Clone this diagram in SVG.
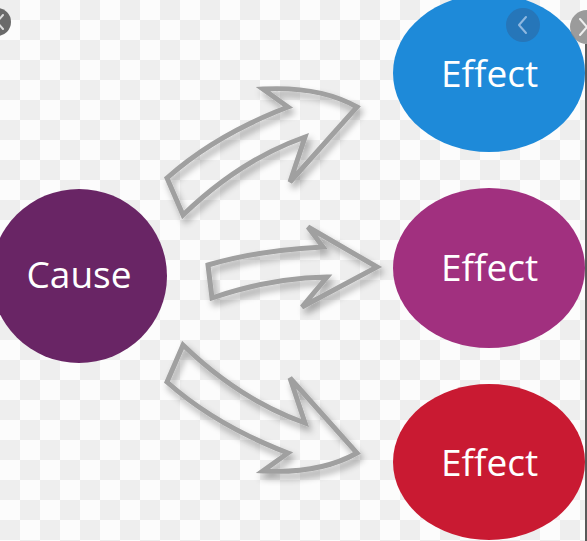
<svg xmlns="http://www.w3.org/2000/svg" width="587" height="541" viewBox="0 0 587 541">
  <defs>
    <pattern id="checker" x="0" y="0" width="40" height="40" patternUnits="userSpaceOnUse">
      <rect width="40" height="40" fill="#fcfcfc"/>
      <rect x="0" y="0" width="20" height="20" fill="#eeeeee"/>
      <rect x="20" y="20" width="20" height="20" fill="#eeeeee"/>
    </pattern>
    <filter id="shadow" x="-20%" y="-20%" width="140%" height="140%">
      <feGaussianBlur in="SourceAlpha" stdDeviation="3.5"/>
      <feOffset dx="3" dy="5" result="b"/>
      <feComponentTransfer><feFuncA type="linear" slope="0.35"/></feComponentTransfer>
      <feMerge><feMergeNode/><feMergeNode in="SourceGraphic"/></feMerge>
    </filter>
    <style>
      .arrow { fill: none; stroke: #a0a0a0; stroke-width: 5; stroke-linejoin: miter; filter: url(#shadow); }
      .label { font-family: "Open Sans", "Noto Sans", "Liberation Sans", sans-serif; font-size: 37px; fill: #ffffff; text-anchor: middle; }
      .chev { fill: none; stroke-width: 2; stroke-linecap: round; stroke-linejoin: round; }
    </style>
  </defs>

  <rect width="587" height="541" fill="url(#checker)"/>

  <g id="connectors">
    <path id="arrow-top" class="arrow" d="M 183 215 L 167 178 Q 215 135 288 107 L 263 89 Q 320 86 357 107 L 290 182 L 305 137 Q 240 160 183 215 Z"/>
    <path id="arrow-middle" class="arrow" d="M 212 298 L 208 265 Q 260 250 323 247 L 308 227 L 377 267 L 302 307 L 327 277 Q 270 278 212 298 Z"/>
    <path id="arrow-bottom" class="arrow" d="M 183 345 Q 240 400 305 423 L 290 378 L 357 453 Q 320 474 263 471 L 288 453 Q 215 425 167 382 Z"/>
  </g>

  <g id="cause">
    <ellipse cx="79" cy="276" rx="88" ry="87" fill="#692565"/>
    <text class="label" x="79" y="288">Cause</text>
  </g>

  <g id="effect-1">
    <ellipse cx="489" cy="73" rx="96" ry="79" fill="#1e8ad9"/>
    <text class="label" x="489.5" y="87">Effect</text>
  </g>

  <g id="effect-2">
    <ellipse cx="489" cy="268" rx="96" ry="80" fill="#a1307f"/>
    <text class="label" x="489.5" y="281">Effect</text>
  </g>

  <g id="effect-3">
    <ellipse cx="489" cy="462" rx="96" ry="78" fill="#c91a32"/>
    <text class="label" x="489.5" y="476">Effect</text>
  </g>

  <g id="ui-buttons">
    <circle cx="-3" cy="22" r="14" fill="#6a6a6a"/>
    <polyline class="chev" stroke="#dddddd" points="3,15 -3,22 3,29"/>
    <circle cx="523" cy="25" r="17" fill="#2a6fae" fill-opacity="0.75"/>
    <polyline class="chev" stroke="#8fb8e0" points="526,17 519,25 526,33"/>
    <circle cx="587" cy="27" r="17" fill="#8a8a8a" fill-opacity="0.85"/>
    <polyline class="chev" stroke="#eeeeee" points="580,19 587,27 580,35"/>
    <rect x="585" y="44" width="2" height="497" fill="#5a5a5a"/>
  </g>
</svg>
